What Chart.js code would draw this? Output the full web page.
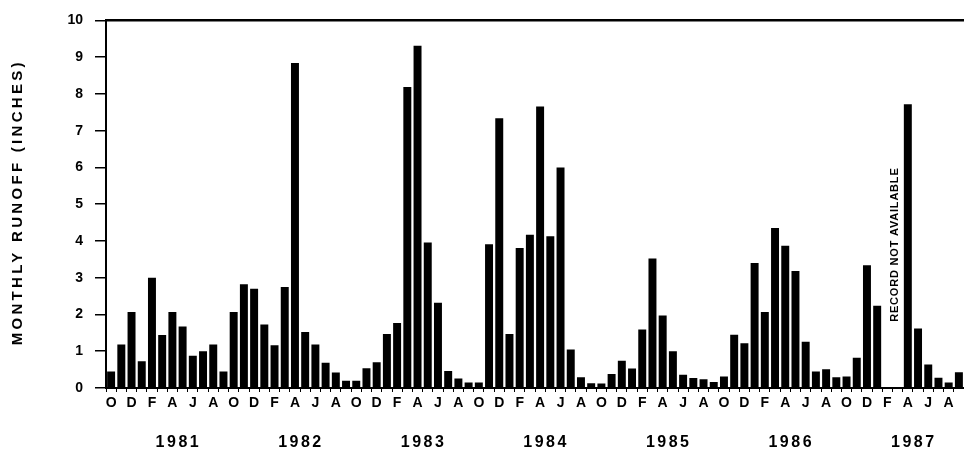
<!DOCTYPE html>
<html>
<head>
<meta charset="utf-8">
<script src="https://cdn.jsdelivr.net/npm/chart.js@4.4.1/dist/chart.umd.min.js"></script>
<style>
  body { margin: 0; background: #fff; }
  canvas { display: block; }
</style>
</head>
<body>
<canvas id="grafico" width="964" height="460"></canvas>
<script>
// mesi dell'anno idrologico (ottobre - settembre)
var mesi = ["O","N","D","J","F","M","A","M","J","J","A","S"];
// anni idrologici
var anni = ["1981","1982","1983","1984","1985","1986","1987"];

// deflusso mensile (pollici), un array per anno
var wy1981 = [0.45, 1.18, 2.07, 0.73, 3.00, 1.44, 2.07, 1.67, 0.88, 1.00, 1.18, 0.45];
var wy1982 = [2.07, 2.82, 2.70, 1.73, 1.16, 2.75, 8.84, 1.52, 1.18, 0.69, 0.42, 0.20];
var wy1983 = [0.20, 0.54, 0.70, 1.47, 1.77, 8.19, 9.31, 3.96, 2.32, 0.46, 0.26, 0.15];
var wy1984 = [0.15, 3.91, 7.34, 1.47, 3.81, 4.17, 7.66, 4.13, 6.00, 1.05, 0.29, 0.13];
var wy1985 = [0.12, 0.38, 0.74, 0.53, 1.59, 3.52, 1.97, 1.00, 0.36, 0.27, 0.24, 0.16];
var wy1986 = [0.31, 1.45, 1.22, 3.40, 2.07, 4.35, 3.87, 3.18, 1.26, 0.45, 0.51, 0.29];
var wy1987 = [0.31, 0.82, 3.34, 2.24, null, null, 7.72, 1.62, 0.64, 0.28, 0.15, 0.43];

var yTicks = [0,1,2,3,4,5,6,7,8,9,10];

var deflusso = [].concat(wy1981, wy1982, wy1983, wy1984, wy1985, wy1986, wy1987);
var etichette = [];
for (let a = 0; a < anni.length; a++) {
  for (let m = 0; m < mesi.length; m++) {
    etichette.push(mesi[m]);
  }
}

const FONT = "'Liberation Sans', Arial, sans-serif";

// testi extra: titolo asse y, anni, nota "record not available"
const testi = {
  id: 'testi',
  afterDraw(chart) {
    const ctx = chart.ctx;
    const x = chart.scales.x;
    const y = chart.scales.y;
    const area = chart.chartArea;
    ctx.save();
    ctx.fillStyle = '#000';
    ctx.textAlign = 'center';
    ctx.textBaseline = 'middle';

    // titolo asse y
    ctx.save();
    ctx.translate(18, (area.top + area.bottom) / 2 - 2);
    ctx.rotate(-Math.PI / 2);
    ctx.font = "bold 15px " + FONT;
    ctx.letterSpacing = '3.3px';
    ctx.fillText("MONTHLY RUNOFF (INCHES)", 0, 0);
    ctx.restore();

    // anni sotto l'asse x
    ctx.font = "bold 16px " + FONT;
    ctx.letterSpacing = '2.5px';
    for (let a = 0; a < anni.length; a++) {
      const px = x.getPixelForValue(a * 12 + 6) + 6;
      ctx.fillText(anni[a], px, 443);
    }

    // nota dati mancanti
    ctx.save();
    const nx = (x.getPixelForValue(76) + x.getPixelForValue(77)) / 2;
    ctx.translate(nx + 2, y.getPixelForValue(3.9));
    ctx.rotate(-Math.PI / 2);
    ctx.font = "bold 11px " + FONT;
    ctx.letterSpacing = '0.8px';
    ctx.fillText("RECORD NOT AVAILABLE", 0, 0);
    ctx.restore();

    ctx.restore();
  }
};

new Chart(document.getElementById("grafico"), {
  type: 'bar',
  data: {
    labels: etichette,
    datasets: [{
      data: deflusso,
      backgroundColor: '#000',
      borderWidth: 0,
      barPercentage: 0.78,
      categoryPercentage: 1
    }]
  },
  options: {
    responsive: false,
    animation: false,
    layout: { padding: { top: 14, right: 0, left: 0, bottom: 0 } },
    plugins: {
      legend: { display: false },
      tooltip: { enabled: false }
    },
    scales: {
      x: {
        offset: true,
        grid: { drawOnChartArea: false, tickLength: 4, color: '#000', lineWidth: 1 },
        border: { color: '#000', width: 2 },
        ticks: {
          autoSkip: false,
          maxRotation: 0,
          padding: 3,
          color: '#000',
          font: { family: FONT, size: 14, weight: 'bold' },
          callback: function(v, i) { return i % 2 === 0 ? etichette[i] : ''; }
        },
        afterFit: function(s) { s.height = 72; }
      },
      xTop: {
        type: 'category',
        position: 'top',
        grid: { display: false },
        ticks: { display: false },
        border: { color: '#000', width: 2.5 },
        afterFit: function(s) { s.height = 0; }
      },
      y: {
        min: 0,
        max: 10,
        afterBuildTicks: function(s) { s.ticks = yTicks.map(v => ({ value: v })); },
        grid: { drawOnChartArea: false, tickLength: 11, color: '#000', lineWidth: 1.5 },
        border: { color: '#000', width: 2 },
        ticks: {
          padding: 12,
          color: '#000',
          font: { family: FONT, size: 14, weight: 'bold' }
        },
        afterFit: function(s) { s.width = 106; }
      }
    }
  },
  plugins: [testi]
});
</script>
</body>
</html>
